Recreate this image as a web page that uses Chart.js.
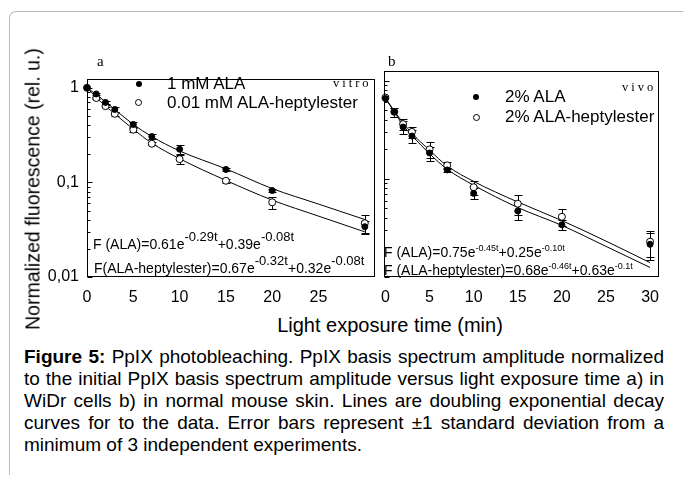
<!DOCTYPE html>
<html>
<head>
<meta charset="utf-8">
<script src="https://cdn.jsdelivr.net/npm/chart.js@4.4.1/dist/chart.umd.min.js"></script>
<style>
  body { margin: 0; background: #fff; }
  #fig { position: relative; width: 683px; height: 477px; overflow: hidden; font-family: "Liberation Sans", Arial, sans-serif; color: #000; }
  .abs { position: absolute; white-space: nowrap; }
  .frame { position: absolute; left: 9px; top: 11px; width: 700px; height: 463px; border-left: 1px solid #bbb; border-top: 1px solid #bbb; border-top-left-radius: 7px; }
  .serif { font-family: "Liberation Serif", "Times New Roman", serif; }
  .leg { font-size: 17px; line-height: 20px; }
  .dot { position: absolute; width: 6px; height: 6px; border-radius: 50%; background: #000; }
  .ring { position: absolute; width: 5px; height: 5px; border-radius: 50%; background: #fff; border: 1px solid #000; }
  .eqa { font-size: 14px; line-height: 16px; }
  .eqa sup { font-size: 13px; position: relative; top: -8px; vertical-align: baseline; }
  .eqb { font-size: 14px; line-height: 16px; }
  .eqb sup { font-size: 9px; position: relative; top: -6px; vertical-align: baseline; }
  #caption { position: absolute; left: 24px; top: 346px; width: 640px; font-size: 19px; line-height: 22px; text-align: justify; }
  .wrap { position: absolute; }
</style>
</head>
<body>
<div id="fig">
  <div class="frame"></div>

  <div class="wrap" style="left:0px;top:61px;width:380px;height:250px"><canvas id="chartA" width="380" height="250"></canvas></div>
  <div class="wrap" style="left:370px;top:61px;width:300px;height:250px"><canvas id="chartB" width="300" height="250"></canvas></div>

  <div class="abs" style="left:33px;top:189px;font-size:19.5px;transform:translate(-50%,-50%) rotate(-90deg)">Normalized fluorescence (rel. u.)</div>
  <div class="abs" style="left:390px;top:325px;font-size:20px;transform:translate(-50%,-50%)">Light exposure time (min)</div>

  <div class="abs serif" style="left:97px;top:52px;font-size:15px;line-height:18px">a</div>
  <div class="abs serif" style="left:388px;top:52px;font-size:15px;line-height:18px">b</div>
  <div class="abs serif" style="left:333px;top:75px;font-size:12.5px;line-height:16px;letter-spacing:3px">vitro</div>
  <div class="abs serif" style="left:622px;top:79px;font-size:12.5px;line-height:16px;letter-spacing:3px">vivo</div>

  <span class="dot" style="left:135.5px;top:80.5px"></span>
  <div class="abs leg" style="left:167px;top:73.5px">1 mM ALA</div>
  <span class="ring" style="left:135px;top:98.5px"></span>
  <div class="abs leg" style="left:167px;top:93px">0.01 mM ALA-heptylester</div>

  <span class="dot" style="left:473px;top:94px"></span>
  <div class="abs leg" style="left:505px;top:87px">2% ALA</div>
  <span class="ring" style="left:472.5px;top:113.5px"></span>
  <div class="abs leg" style="left:505px;top:107px">2% ALA-heptylester</div>

  <div class="abs eqa" style="left:93px;top:236px">F (ALA)=0.61e<sup>-0.29t</sup>+0.39e<sup>-0.08t</sup></div>
  <div class="abs eqa" style="left:94px;top:260px">F(ALA-heptylester)=0.67e<sup>-0.32t</sup>+0.32e<sup>-0.08t</sup></div>
  <div class="abs eqb" style="left:384px;top:244px">F (ALA)=0.75e<sup>-0.45t</sup>+0.25e<sup>-0.10t</sup></div>
  <div class="abs eqb" style="left:384px;top:262px">F (ALA-heptylester)=0.68e<sup>-0.46t</sup>+0.63e<sup>-0.1t</sup></div>

  <div id="caption"><b>Figure 5:</b> PpIX photobleaching. PpIX basis spectrum amplitude normalized to the initial PpIX basis spectrum amplitude versus light exposure time a) in WiDr cells b) in normal mouse skin. Lines are doubling exponential decay curves for to the data. Error bars represent ±1 standard deviation from a minimum of 3 independent experiments.</div>
</div>

<script>
// panel a: in vitro (WiDr cells)
const timeA = [0, 1, 2, 3, 5, 7, 10, 15, 20, 30];
const alaA = [1.0, 0.86, 0.70, 0.59, 0.41, 0.305, 0.224, 0.137, 0.082, 0.034];
const alaSdA = [0, 0.015, 0.02, 0.03, 0.025, 0.02, 0.025, 0.004, 0.003, 0.0055];
const hepA = [1.0, 0.78, 0.64, 0.53, 0.36, 0.256, 0.176, 0.104, 0.0616, 0.037];
const hepSdA = [0, 0.015, 0.02, 0.03, 0.02, 0.01, 0.018, 0.005, 0.009, 0.008];

// panel b: in vivo (mouse skin)
const timeB = [0, 1, 2, 3, 5, 7, 10, 15, 20, 30];
const alaB = [0.655, 0.48, 0.336, 0.272, 0.183, 0.123, 0.071, 0.047, 0.034, 0.0215];
const alaSdB = [0, 0.05, 0.05, 0.04, 0.03, 0.006, 0.009, 0.0094, 0.004, 0.0065];
const hepB = [0.67, 0.48, 0.36, 0.30, 0.199, 0.137, 0.082, 0.0557, 0.041, 0.0229];
const hepSdB = [0, 0.05, 0.05, 0.04, 0.037, 0.01, 0.014, 0.013, 0.008, 0.0068];

// fitted curves
const fitTime = [0, 1, 2, 3, 5, 7, 10, 15, 20, 25, 30];
const fitAlaA = [1.0, 0.85, 0.71, 0.59, 0.41, 0.305, 0.215, 0.139, 0.086, 0.059, 0.0405];
const fitHepA = [1.0, 0.79, 0.64, 0.53, 0.365, 0.26, 0.178, 0.105, 0.065, 0.044, 0.030];
const fitAlaB = [0.655, 0.48, 0.35, 0.275, 0.18, 0.125, 0.086, 0.051, 0.0335, 0.0205, 0.0125];
const fitHepB = [0.665, 0.49, 0.37, 0.29, 0.195, 0.135, 0.094, 0.058, 0.0375, 0.0232, 0.014];

const xTicksA = [0, 5, 10, 15, 20, 25];
const xTicksB = [0, 5, 10, 15, 20, 25, 30];
const yTickValues = [0.01, 0.1, 1];
const yTickLabels = ['0,01', '0,1', '1'];

const pts = (xs, ys) => xs.map((x, i) => ({ x: x, y: ys[i] }));

// box round the plot, inward log ticks and error bars
const framePlugin = {
  id: 'framePlugin',
  beforeDatasetsDraw(chart) {
    const ctx = chart.ctx, xs = chart.scales.x, ys = chart.scales.y;
    ctx.save();
    ctx.strokeStyle = '#000';
    ctx.lineWidth = 1;
    ctx.beginPath();
    chart.data.datasets.forEach(ds => {
      if (!ds.sd) return;
      ds.data.forEach((p, i) => {
        const s = ds.sd[i];
        if (!s) return;
        const px = Math.round(xs.getPixelForValue(p.x)) + 0.5;
        const y1 = Math.round(ys.getPixelForValue(p.y + s)) + 0.5;
        const y2 = Math.round(ys.getPixelForValue(p.y - s)) + 0.5;
        ctx.moveTo(px, y1); ctx.lineTo(px, y2);
        ctx.moveTo(px - 4, y1); ctx.lineTo(px + 4, y1);
        ctx.moveTo(px - 4, y2); ctx.lineTo(px + 4, y2);
      });
    });
    ctx.stroke();
    ctx.restore();
  },
  afterDraw(chart) {
    const ctx = chart.ctx, a = chart.chartArea, ys = chart.scales.y;
    const l = Math.round(a.left) + 0.5, t = Math.round(a.top) + 0.5;
    const r = Math.round(a.right) - 0.5, b = Math.round(a.bottom) - 0.5;
    ctx.save();
    ctx.strokeStyle = '#000';
    ctx.lineWidth = 1;
    ctx.strokeRect(l, t, r - l, b - t);
    ctx.beginPath();
    for (let e = -2; e <= 0; e++) {
      for (let m = 1; m <= 9; m++) {
        const v = m * Math.pow(10, e);
        if (v > ys.max) break;
        const py = Math.round(ys.getPixelForValue(v)) + 0.5;
        ctx.moveTo(l, py);
        ctx.lineTo(l + (m === 1 ? 5 : 3), py);
      }
    }
    ctx.stroke();
    ctx.restore();
  }
};

function makeChart(id, xMin, xMax, xTicks, yWidth, showY, padRight, ala, alaSd, hep, hepSd, time, fitAla, fitHep) {
  return new Chart(document.getElementById(id), {
    type: 'scatter',
    data: {
      datasets: [
        { data: pts(time, ala), sd: alaSd, showLine: false, pointRadius: 3, pointBorderWidth: 1,
          pointBackgroundColor: '#000', pointBorderColor: '#000', clip: false },
        { data: pts(time, hep), sd: hepSd, showLine: false, pointRadius: 3.5, pointBorderWidth: 1,
          pointBackgroundColor: '#fff', pointBorderColor: '#000', clip: false },
        { data: pts(fitTime, fitAla), showLine: true, pointRadius: 0, borderColor: '#000', borderWidth: 1,
          cubicInterpolationMode: 'monotone' },
        { data: pts(fitTime, fitHep), showLine: true, pointRadius: 0, borderColor: '#000', borderWidth: 1,
          cubicInterpolationMode: 'monotone' }
      ]
    },
    options: {
      responsive: false,
      animation: false,
      layout: { padding: { top: 10, right: padRight, left: 0, bottom: 0 } },
      plugins: { legend: { display: false }, tooltip: { enabled: false } },
      scales: {
        x: {
          type: 'linear', min: xMin, max: xMax,
          afterBuildTicks: s => { s.ticks = xTicks.map(v => ({ value: v })); },
          afterFit: s => { s.height = 34; },
          grid: { display: false, drawTicks: false },
          border: { display: false },
          ticks: { color: '#000', font: { family: 'Liberation Sans', size: 16 }, padding: 11, maxRotation: 0, autoSkip: false }
        },
        y: {
          type: 'logarithmic', min: 0.01, max: 1.25,
          afterBuildTicks: s => { s.ticks = yTickValues.map(v => ({ value: v })); },
          afterFit: s => { s.width = yWidth; },
          grid: { display: false, drawTicks: false },
          border: { display: false },
          ticks: { display: showY, color: '#000', font: { family: 'Liberation Sans', size: 16 }, padding: 8,
                   callback: (v, i) => yTickLabels[i] }
        }
      }
    },
    plugins: [framePlugin]
  });
}

makeChart('chartA', 0, 31.1, xTicksA, 87, true, 2, alaA, alaSdA, hepA, hepSdA, timeA, fitAlaA, fitHepA);
makeChart('chartB', -0.15, 31, xTicksB, 10, false, 4, alaB, alaSdB, hepB, hepSdB, timeB, fitAlaB, fitHepB);
</script>
</body>
</html>
